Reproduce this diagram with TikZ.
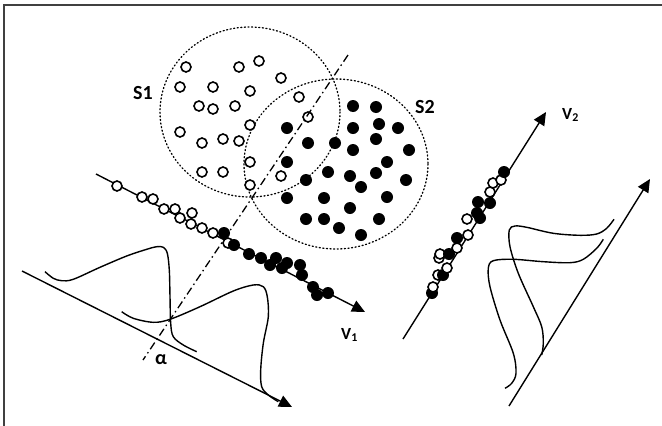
\documentclass[tikz,border=0pt]{standalone}
\usepackage{fontspec}
\setmainfont{Carlito}
\usetikzlibrary{arrows.meta}
\begin{document}
\begin{tikzpicture}[x=1pt,y=-1pt,
  frameline/.style={draw=black!75, line width=2pt},
  cluster/.style={dash pattern=on 1.1pt off 2.5pt, line width=1.3pt, line cap=round},
  axis/.style={line width=1.4pt, -{Triangle[length=13pt,width=12pt]}},
  density/.style={line width=1.4pt, line join=round},
  splitline/.style={line width=1.3pt, dash pattern=on 8pt off 3.5pt on 1.5pt off 3.5pt},
  hollow/.style={circle, draw, fill=white, line width=1.6pt, minimum size=10pt, inner sep=0pt},
  solid dot/.style={circle, fill=black, minimum size=12pt, inner sep=0pt},
  biglabel/.style={font=\bfseries\fontsize{20}{22}\selectfont, inner sep=0pt},
  veclabel/.style={font=\bfseries\fontsize{17}{19}\selectfont, inner sep=0pt},
  anglabel/.style={font=\bfseries\fontsize{20}{22}\selectfont, inner sep=0pt}]

% page and frame
\fill[white] (0,0) rectangle (662,426);
\useasboundingbox (0,0) rectangle (662,426);
\draw[frameline] (662,5) -- (4,5) -- (4,426);

% the two clusters
\draw[cluster] (250,112) ellipse [x radius=90, y radius=85];
\draw[cluster] (336,164) ellipse [x radius=92, y radius=85];

% class S1 samples
\foreach \p [count=\i] in {(186,67),(239,67),(259,61),(281,78),(180,87),(213,87),
  (250,91),(299,97),(199,106),(213,109),(235,106),(308,117),(250,125),(180,132),
  (202,143),(223,139),(239,141),(250,162),(202,172),(223,172),(281,176),(250,185)}
  \node[hollow] (a\i) at \p {};

% class S2 samples
\foreach \p [count=\i] in {(353,106),(376,107),(353,128),(379,124),(398,128),(287,128),
  (308,143),(335,143),(376,139),(409,150),(353,150),(287,162),(387,162),(328,172),
  (350,176),(376,173),(406,180),(306,180),(361,187),(287,198),(324,198),(387,197),
  (350,208),(306,219),(324,219),(379,219),(339,228),(361,235)}
  \node[solid dot] (b\i) at \p {};

% projection onto V1
\coordinate (v1s) at (96,174);
\coordinate (v1e) at (365,312);
\draw[axis] (v1s) -- (v1e);
\foreach \p [count=\i] in {(117,186),(142,197),(153,199),(164,209),(175,209),(180,218),
  (192,213),(191,224),(202,228),(213,233)}
  \node[hollow] (c\i) at \p {};
\node[hollow] (c11) at (228,243) {};
\foreach \p [count=\i] in {(224,233),(234,245),(249,254),(261,258),(276,258),(270,265),
  (287,263),(282,268),(300,265),(302,275),(313,287),(317,295),(328,293)}
  \node[solid dot] (d\i) at \p {};
\node[veclabel, anchor=base west] (lv1) at (341,339) {V\textsubscript{1}};

% projection onto V2
\coordinate (v2s) at (403,339);
\coordinate (v2e) at (546,112);
\draw[axis] (v2s) -- (v2e);
\node[solid dot] (e1) at (432,293) {};
\node[hollow] (e2) at (433,287) {};
\node[hollow] (e3) at (438,275) {};
\node[solid dot] (e4) at (443,275) {};
\node[hollow] (e5) at (447,268) {};
\node[hollow] (e6) at (439,258) {};
\node[hollow] (e7) at (440,254) {};
\node[solid dot] (e8) at (449,254) {};
\node[hollow] (e9) at (457,248) {};
\node[solid dot] (e10) at (457,238) {};
\node[hollow] (e11) at (468,235) {};
\node[hollow] (e12) at (467,219) {};
\node[solid dot] (e13) at (480,218) {};
\node[solid dot] (e14) at (477,213) {};
\node[solid dot] (e15) at (478,202) {};
\node[solid dot] (e16) at (490,203) {};
\node[hollow] (e17) at (490,192) {};
\node[hollow] (e18) at (493,183) {};
\node[hollow] (e19) at (501,180) {};
\node[solid dot] (e20) at (504,172) {};
\node[veclabel, anchor=base west] (lv2) at (562,119) {V\textsubscript{2}};

% densities along the V1 direction
\coordinate (p1s) at (22,271);
\coordinate (p1e) at (292,407);
\draw[axis] (p1s) -- (p1e);
\draw[density] plot[smooth, tension=0.55] coordinates {(45,271.7) (53.3,278.3) (61.7,280.7)
  (73.3,279.3) (100,267.3) (126.7,256) (146.7,249.3) (156.7,246.7) (163.3,247.3)
  (167.3,253.3) (169.3,270) (170,296.7) (170.7,323.3) (173.3,336.7) (183.3,345) (196.7,351.7)};
\draw[density] plot[smooth, tension=0.55] coordinates {(121.7,311.7) (133.3,318.3)
  (153.3,322.3) (170,319.3) (200,306.7) (233.3,291) (253.3,285) (263.3,286.7)
  (267.3,296.7) (268.3,316.7) (263.3,343.3) (260.7,370) (261.7,386.7) (268.3,395) (278.3,401.7)};

% densities along the V2 direction
\coordinate (p2s) at (509,406);
\coordinate (p2e) at (650,179);
\draw[axis] (p2s) -- (p2e);
\draw[density] plot[smooth, tension=0.55] coordinates {(614,219.3) (606.7,228.3) (596.7,234)
  (580,235.3) (553.3,233.3) (526.7,227.3) (515,226) (509.3,230) (510,246.7)
  (518.3,273.3) (533.3,306.7) (541.7,326.7) (543.3,343.3) (541.7,355)};
\draw[density] plot[smooth, tension=0.55] coordinates {(603.3,239.3) (596.7,248.3)
  (583.3,259.3) (570,262.7) (543.3,261.7) (513.3,259.3) (493.3,260.7) (488.3,268.3)
  (490,286.7) (500,320) (513.3,353.3) (516,373.3) (511.7,383.3) (505,388.3)};

% separating direction and its angle
\coordinate (ds) at (348,55);
\coordinate (de) at (143,360);
\draw[splitline] (ds) -- (de);
\node[anglabel] (alpha) at (161,360) {α};

% cluster names
\node[biglabel] (s1) at (143,93) {S1};
\node[biglabel] (s2) at (425,107) {S2};
\end{tikzpicture}
\end{document}
